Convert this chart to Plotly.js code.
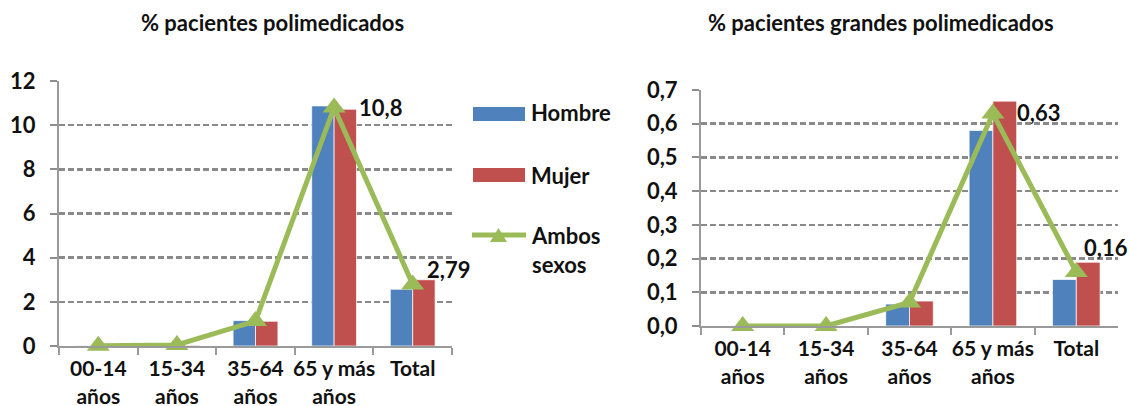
<!DOCTYPE html>
<html>
<head>
<meta charset="utf-8">
<script src="https://cdn.plot.ly/plotly-3.0.1.min.js"></script>
<style>html,body{margin:0;padding:0;background:#fff;}#chart{width:1130px;height:406px;}</style>
</head>
<body>
<div id="chart"></div>
<script>
// ---- data ----
var categories = ['00-14<br>años', '15-34<br>años', '35-64<br>años', '65 y más<br>años', 'Total'];
var seriesNames = ['Hombre', 'Mujer', 'Ambos<br>sexos'];
var hombrePoli = [0.01, 0.03, 1.15, 10.87, 2.57];
var mujerPoli = [0.01, 0.03, 1.12, 10.72, 3.0];
var ambosPoli = [0.01, 0.05, 1.13, 10.8, 2.79];
var hombreGrandes = [0, 0, 0.065, 0.58, 0.138];
var mujerGrandes = [0, 0, 0.074, 0.667, 0.189];
var ambosGrandes = [0, 0, 0.07, 0.63, 0.16];
var labelledIdx = [3, 4];
var titles = ['% pacientes polimedicados', '% pacientes grandes polimedicados'];
var leftTicks = [0, 2, 4, 6, 8, 10, 12];
var rightTicks = [0, 0.1, 0.2, 0.3, 0.4, 0.5, 0.6, 0.7];

// ---- styling ----
var W = 1130, H = 406;
var FONT = 'Lato, "Open Sans", sans-serif';
var FS = 22;
var TXT = '#111111';
var BLUE = '#4F81BD', RED = '#C0504D', GREEN = '#9BBB59';
function px(x) { return x / W; }
function py(y) { return 1 - y / H; }
function fmt(v) { return String(v).replace('.', ','); }

function bar(x, y, name, color, xa, ya) {
  return { type: 'bar', x: x, y: y, name: name, xaxis: xa, yaxis: ya,
    marker: { color: color, line: { color: 'rgba(255,255,255,0.7)', width: 1 } },
    showlegend: false, hoverinfo: 'x+y' };
}
function line(x, y, name, xa, ya) {
  return { type: 'scatter', mode: 'lines+markers', x: x, y: y, name: name, xaxis: xa, yaxis: ya,
    line: { color: GREEN, width: 5 },
    marker: { symbol: 'triangle-up', size: 20, color: GREEN },
    cliponaxis: false, showlegend: false };
}

var data = [
  bar(categories, hombrePoli, seriesNames[0], BLUE, 'x', 'y'),
  bar(categories, mujerPoli, seriesNames[1], RED, 'x', 'y'),
  line(categories, ambosPoli, seriesNames[2], 'x', 'y'),
  bar(categories, hombreGrandes, seriesNames[0], BLUE, 'x2', 'y2'),
  bar(categories, mujerGrandes, seriesNames[1], RED, 'x2', 'y2'),
  line(categories, ambosGrandes, seriesNames[2], 'x2', 'y2')
];

var tickFont = { family: FONT, size: FS, color: TXT, weight: 700 };
var xTickFont = { family: FONT, size: 21, color: TXT, weight: 700 };
function xax(domain, anchor) {
  return { domain: domain, anchor: anchor, type: 'category',
    range: [-0.5, categories.length - 0.5], autorange: false,
    showline: true, linecolor: '#9a9a9a', linewidth: 2,
    ticks: 'outside', tickson: 'boundaries', ticklen: 7, tickcolor: '#9a9a9a', tickwidth: 2,
    showgrid: false, tickfont: xTickFont, tickangle: 0, fixedrange: true, ticklabelstandoff: 3 };
}
function yax(domain, anchor, range, ticks, fmtStr) {
  return { domain: domain, anchor: anchor, range: range, autorange: false,
    tickvals: ticks, tickformat: fmtStr,
    showline: true, linecolor: '#9a9a9a', linewidth: 2,
    ticks: 'outside', ticklen: 7, tickcolor: '#8c8c8c', tickwidth: 2,
    showgrid: true, gridcolor: '#8a8a8a', gridwidth: 2.5, griddash: '6px,3px',
    zeroline: false, tickfont: tickFont, fixedrange: true, ticklabelstandoff: 10 };
}

var annotations = [];
// titles
annotations.push({ xref: 'paper', yref: 'paper', x: px(272), y: py(22), text: titles[0], showarrow: false,
  xanchor: 'center', yanchor: 'middle', font: { family: FONT, size: FS, color: TXT, weight: 700 } });
annotations.push({ xref: 'paper', yref: 'paper', x: px(881), y: py(22), text: titles[1], showarrow: false,
  xanchor: 'center', yanchor: 'middle', font: { family: FONT, size: FS, color: TXT, weight: 700 } });
// data labels
var shiftsL = [[46, 0], [36, 15]];
var shiftsR = [[46, 1], [30, 25]];
labelledIdx.forEach(function (i, k) {
  annotations.push({ xref: 'x', yref: 'y', x: categories[i], y: ambosPoli[i], text: fmt(ambosPoli[i]),
    showarrow: false, xshift: shiftsL[k][0], yshift: shiftsL[k][1], xanchor: 'center', yanchor: 'middle',
    font: { family: FONT, size: FS, color: TXT, weight: 700 } });
  annotations.push({ xref: 'x2', yref: 'y2', x: categories[i], y: ambosGrandes[i], text: fmt(ambosGrandes[i]),
    showarrow: false, xshift: shiftsR[k][0], yshift: shiftsR[k][1], xanchor: 'center', yanchor: 'middle',
    font: { family: FONT, size: FS, color: TXT, weight: 700 } });
});
// legend text
var legY = [113, 175, 250];
seriesNames.forEach(function (n, i) {
  annotations.push({ xref: 'paper', yref: 'paper', x: px(529), y: py(legY[i]), text: n, showarrow: false,
    xanchor: 'left', yanchor: 'middle', align: 'left',
    font: { family: FONT, size: FS, color: TXT, weight: 700 } });
});

var shapes = [
  { type: 'rect', xref: 'paper', yref: 'paper', x0: px(473), x1: px(525), y0: py(121), y1: py(107),
    fillcolor: BLUE, line: { width: 0 } },
  { type: 'rect', xref: 'paper', yref: 'paper', x0: px(473), x1: px(525), y0: py(182), y1: py(168),
    fillcolor: RED, line: { width: 0 } },
  { type: 'line', xref: 'paper', yref: 'paper', x0: px(472), x1: px(526), y0: py(235), y1: py(235),
    line: { color: GREEN, width: 5 } },
  { type: 'path', xref: 'paper', yref: 'paper',
    path: 'M' + px(490) + ',' + py(242) + ' L' + px(507) + ',' + py(242) + ' L' + px(498.5) + ',' + py(228) + ' Z',
    fillcolor: GREEN, line: { width: 0 } }
];

var layout = {
  width: W, height: H, margin: { l: 0, r: 0, t: 0, b: 0 },
  paper_bgcolor: '#ffffff', plot_bgcolor: '#ffffff',
  separators: ',.', barmode: 'group', bargap: 0.43, bargroupgap: 0,
  font: { family: FONT, color: TXT },
  xaxis: xax([px(59), px(452)], 'y'),
  yaxis: yax([py(346), py(81)], 'x', [0, 12], leftTicks, 'd'),
  xaxis2: xax([px(701), px(1118)], 'y2'),
  yaxis2: yax([py(326), py(90)], 'x2', [0, 0.7], rightTicks, '.1f'),
  annotations: annotations, shapes: shapes, showlegend: false
};

Plotly.newPlot('chart', data, layout, { displayModeBar: false, staticPlot: true });
</script>
</body>
</html>
